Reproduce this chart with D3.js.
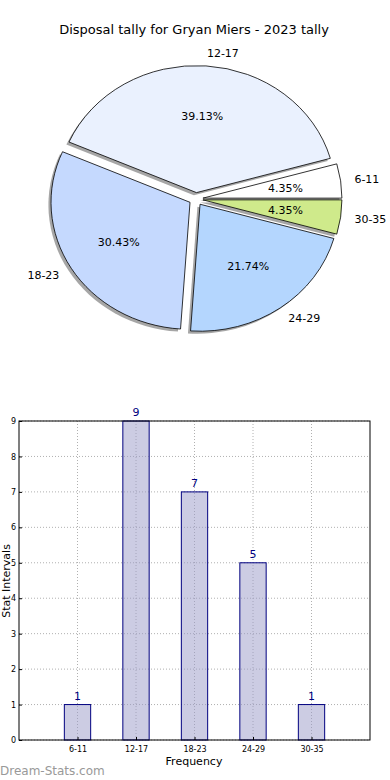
<!DOCTYPE html>
<html><head><meta charset="utf-8">
<script src="https://cdn.jsdelivr.net/npm/d3@7"></script>
<style>body{margin:0;background:#fff;}svg{display:block;font-family:"DejaVu Sans",sans-serif;}</style>
</head><body>
<svg id="c" width="390" height="780"></svg>
<script>
const categories = ["6-11","12-17","18-23","24-29","30-35"];
const values = [1,9,7,5,1];
const pieColors = ["#ffffff","#eaf1fe","#c5d9fe","#b4d6fe","#cfea8b"];
const yTicks = [0,1,2,3,4,5,6,7,8,9];
const title = "Disposal tally for Gryan Miers - 2023 tally";

const svg = d3.select("#c");
svg.append("rect").attr("width",390).attr("height",780).attr("fill","#fff");

svg.append("text").attr("x",194).attr("y",34).attr("text-anchor","middle")
  .attr("font-size",13).text(title);

// Pie
const cx=196, cy=199, r=139, sy=127/139, ex=7;
const total = d3.sum(values);
const pie = d3.pie().sort(null).startAngle(Math.PI/2).endAngle(Math.PI/2-2*Math.PI);
const arcs = pie(values);
const arc = d3.arc().innerRadius(0).outerRadius(r);
const pg = svg.append("g").attr("transform",`translate(${cx},${cy}) scale(1,${sy})`);
function mid(d){ const a=(d.startAngle+d.endAngle)/2; return Math.PI/2 - a; }
arcs.forEach((d)=>{
  const m=mid(d);
  pg.append("path").attr("d",arc(d))
    .attr("transform",`translate(${ex*Math.cos(m)-2.6},${-ex*Math.sin(m)+2.8})`)
    .attr("fill","#4d4d4d").attr("fill-opacity",0.5).attr("stroke","none");
});
arcs.forEach((d,i)=>{
  const m=mid(d);
  pg.append("path").attr("d",arc(d))
    .attr("transform",`translate(${ex*Math.cos(m)},${-ex*Math.sin(m)})`)
    .attr("fill",pieColors[i]).attr("stroke","#000").attr("stroke-width",0.8)
    .attr("vector-effect","non-scaling-stroke");
});
arcs.forEach((d,i)=>{
  const m=mid(d), c=Math.cos(m), s=Math.sin(m);
  const lx = cx + (ex + 1.1*r)*c, ly = cy - (ex + 1.1*r)*s*sy;
  svg.append("text").attr("x",lx).attr("y",ly).attr("dy","0.35em")
    .attr("text-anchor", c>0?"start":"end").attr("font-size",11).text(categories[i]);
  const px = cx + (ex + 0.6*r)*c, py = cy - (ex + 0.6*r)*s*sy;
  svg.append("text").attr("x",px).attr("y",py).attr("dy","0.35em")
    .attr("text-anchor","middle").attr("font-size",11)
    .text((values[i]/total*100).toFixed(2)+"%");
});

// Bar chart
const x = d3.scaleLinear().domain([0,6]).range([19,370]);
const y = d3.scaleLinear().domain([0,9]).range([740,421]);
const bg = svg.append("g");
yTicks.forEach(t=>{
  bg.append("line").attr("x1",19).attr("x2",370).attr("y1",y(t)).attr("y2",y(t))
    .attr("stroke","#b0b0b0").attr("stroke-width",1).attr("stroke-dasharray","1,2");
});
categories.forEach((c,i)=>{
  bg.append("line").attr("x1",x(i+1)).attr("x2",x(i+1)).attr("y1",421).attr("y2",740)
    .attr("stroke","#b0b0b0").attr("stroke-width",1).attr("stroke-dasharray","1,2");
});
const bw = x(0.45)-x(0);
categories.forEach((c,i)=>{
  bg.append("rect").attr("x",x(i+1)-bw/2).attr("y",y(values[i]))
    .attr("width",bw).attr("height",y(0)-y(values[i]))
    .attr("fill","#9999c8").attr("fill-opacity",0.5)
    .attr("stroke","#000080").attr("stroke-width",1);
  bg.append("text").attr("x",x(i+1)).attr("y",y(values[i])-5)
    .attr("text-anchor","middle").attr("font-size",11).attr("fill","#000080").text(values[i]);
});
bg.append("rect").attr("x",19).attr("y",421).attr("width",351).attr("height",319)
  .attr("fill","none").attr("stroke","#000").attr("stroke-width",1);
const ax = d3.axisLeft(y).tickValues(yTicks).tickSize(-3).tickPadding(3);
const yg = bg.append("g").attr("transform","translate(19,0)").call(ax);
yg.select(".domain").remove();
yg.selectAll("text").attr("font-size",8).attr("font-family","DejaVu Sans");
const axb = d3.axisBottom(x).tickValues([1,2,3,4,5]).tickFormat((d)=>categories[d-1]).tickSize(-3).tickPadding(6);
const xg = bg.append("g").attr("transform","translate(0,740)").call(axb);
xg.select(".domain").remove();
xg.selectAll("text").attr("font-size",8).attr("font-family","DejaVu Sans");

svg.append("text").attr("transform","translate(9.5,581) rotate(-90)").attr("text-anchor","middle")
  .attr("font-size",11).text("Stat Intervals");
svg.append("text").attr("x",194).attr("y",765).attr("text-anchor","middle")
  .attr("font-size",11).text("Frequency");
svg.append("text").attr("x",0).attr("y",775).attr("font-size",12)
  .attr("fill","#999").text("Dream-Stats.com");
</script>
</body></html>
